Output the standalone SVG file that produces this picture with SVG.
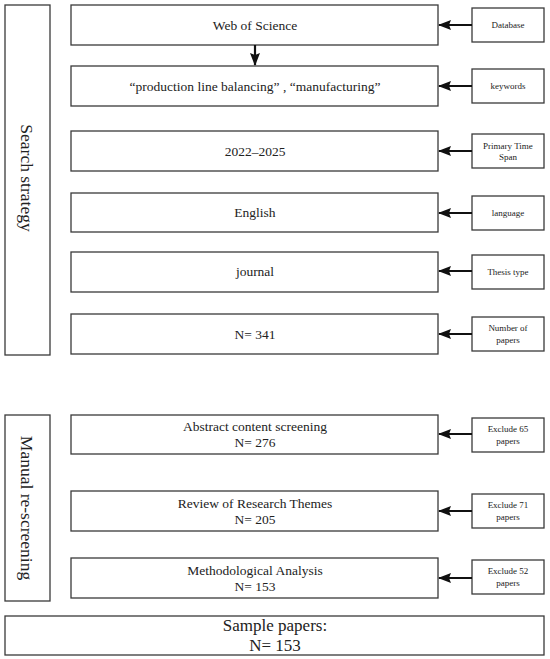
<svg xmlns="http://www.w3.org/2000/svg" width="550" height="659" viewBox="0 0 550 659">
<style>
rect{fill:#fff;stroke:#3a3a3a;stroke-width:1.3}
text{font-family:"Liberation Serif","Times New Roman",serif;fill:#222;text-anchor:middle}
.m{font-size:13.5px}
.s{font-size:9px}
.v{font-size:17.5px}
.b{font-size:17px}
.c{stroke:#111;stroke-width:2.2;fill:none}
</style>
<defs>
<marker id="ah" markerWidth="13" markerHeight="10" refX="12" refY="5" orient="auto" markerUnits="userSpaceOnUse">
<path d="M0,0 L13,5 L0,10 L2,5 z" fill="#111"/>
</marker>
</defs>
<rect width="550" height="659" style="stroke:none"/>
<g id="search-strategy"><rect x="5" y="5" width="45" height="350"/><text class="v" transform="translate(21,178) rotate(90)">Search strategy</text></g>
<g id="manual-rescreening"><rect x="5" y="415" width="45" height="186"/><text class="v" transform="translate(21,508) rotate(90)">Manual re-screening</text></g>

<g id="n1"><rect x="71" y="5" width="367" height="40"/><text class="m" x="255" y="30">Web of Science</text></g>
<g id="n2"><rect x="71" y="66" width="367" height="40"/><text class="m" x="255" y="91">“production line balancing” , “manufacturing”</text></g>
<g id="n3"><rect x="71" y="131" width="367" height="40"/><text class="m" x="255" y="156">2022–2025</text></g>
<g id="n4"><rect x="71" y="193" width="367" height="39"/><text class="m" x="255" y="217">English</text></g>
<g id="n5"><rect x="71" y="252" width="367" height="40"/><text class="m" x="255" y="276">journal</text></g>
<g id="n6"><rect x="71" y="314" width="367" height="40"/><text class="m" x="255" y="339">N= 341</text></g>
<g id="n7"><rect x="71" y="415" width="367" height="39"/><text class="m" x="255" y="431">Abstract content screening</text><text class="m" x="255" y="447">N= 276</text></g>
<g id="n8"><rect x="71" y="491" width="367" height="40"/><text class="m" x="255" y="508">Review of Research Themes</text><text class="m" x="255" y="524">N= 205</text></g>
<g id="n9"><rect x="71" y="558" width="367" height="40"/><text class="m" x="255" y="575">Methodological Analysis</text><text class="m" x="255" y="591">N= 153</text></g>
<g id="sample"><rect x="5" y="616" width="539" height="39"/><text class="b" x="275" y="631">Sample papers:</text><text class="b" x="275" y="651">N= 153</text></g>

<g id="r1"><rect x="472" y="8" width="72" height="34"/><text class="s" x="508" y="28">Database</text></g>
<g id="r2"><rect x="472" y="69" width="72" height="34"/><text class="s" x="508" y="89">keywords</text></g>
<g id="r3"><rect x="472" y="134" width="72" height="34"/><text class="s" x="508" y="149">Primary Time</text><text class="s" x="508" y="160">Span</text></g>
<g id="r4"><rect x="472" y="196" width="72" height="34"/><text class="s" x="508" y="216">language</text></g>
<g id="r5"><rect x="472" y="255" width="72" height="34"/><text class="s" x="508" y="275">Thesis type</text></g>
<g id="r6"><rect x="472" y="317" width="72" height="34"/><text class="s" x="508" y="331">Number of</text><text class="s" x="508" y="343">papers</text></g>
<g id="r7"><rect x="472" y="418" width="72" height="34"/><text class="s" x="508" y="432">Exclude 65</text><text class="s" x="508" y="444">papers</text></g>
<g id="r8"><rect x="472" y="494" width="72" height="34"/><text class="s" x="508" y="508">Exclude 71</text><text class="s" x="508" y="520">papers</text></g>
<g id="r9"><rect x="472" y="560" width="72" height="34"/><text class="s" x="508" y="574">Exclude 52</text><text class="s" x="508" y="586">papers</text></g>

<g id="connectors">
<line class="c" x1="255" y1="45" x2="255" y2="65" marker-end="url(#ah)"/>
<line class="c" x1="472" y1="25" x2="439" y2="25" marker-end="url(#ah)"/>
<line class="c" x1="472" y1="86" x2="439" y2="86" marker-end="url(#ah)"/>
<line class="c" x1="472" y1="151" x2="439" y2="151" marker-end="url(#ah)"/>
<line class="c" x1="472" y1="213" x2="439" y2="213" marker-end="url(#ah)"/>
<line class="c" x1="472" y1="271" x2="439" y2="271" marker-end="url(#ah)"/>
<line class="c" x1="472" y1="334" x2="439" y2="334" marker-end="url(#ah)"/>
<line class="c" x1="472" y1="434" x2="439" y2="434" marker-end="url(#ah)"/>
<line class="c" x1="472" y1="511" x2="439" y2="511" marker-end="url(#ah)"/>
<line class="c" x1="472" y1="578" x2="439" y2="578" marker-end="url(#ah)"/>
</g>
</svg>
